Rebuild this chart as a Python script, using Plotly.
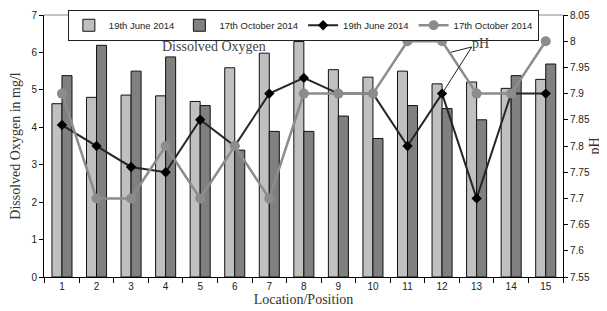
import plotly.graph_objects as go

locations = [str(i) for i in range(1, 16)]
do_june = [4.63, 4.8, 4.86, 4.84, 4.69, 5.59, 5.98, 6.29, 5.54, 5.34, 5.5, 5.16, 5.21, 5.04, 5.28]
do_oct = [5.38, 6.19, 5.5, 5.88, 4.58, 3.39, 3.89, 3.89, 4.3, 3.7, 4.58, 4.5, 4.2, 5.38, 5.69]
ph_june = [7.84, 7.80, 7.76, 7.75, 7.85, 7.80, 7.90, 7.93, 7.90, 7.90, 7.80, 7.90, 7.70, 7.90, 7.90]
ph_oct = [7.90, 7.70, 7.70, 7.80, 7.70, 7.80, 7.70, 7.90, 7.90, 7.90, 8.00, 8.00, 7.90, 7.90, 8.00]
legend_names = ["19th June 2014", "17th October 2014"]

sans = "Liberation Sans, Arial, sans-serif"
serif = "Liberation Serif, Times New Roman, serif"

fig = go.Figure()
fig.add_trace(go.Bar(x=locations, y=do_june, name=legend_names[0],
                     marker=dict(color="#c0c0c0", line=dict(color="#111111", width=1))))
fig.add_trace(go.Bar(x=locations, y=do_oct, name=legend_names[1],
                     marker=dict(color="#808080", line=dict(color="#111111", width=1))))
fig.add_trace(go.Scatter(x=locations, y=ph_june, name=legend_names[0], yaxis="y2",
                         mode="lines+markers",
                         line=dict(color="#262626", width=2),
                         marker=dict(symbol="diamond", size=8, color="#000000")))
fig.add_trace(go.Scatter(x=locations, y=ph_oct, name=legend_names[1], yaxis="y2",
                         mode="lines+markers",
                         line=dict(color="#8c8c8c", width=2.5),
                         marker=dict(symbol="circle", size=10, color="#8c8c8c")))

# page body has an 8px margin, so the figure is shrunk and margins shifted accordingly
fig.update_layout(
    width=599, height=303,
    margin=dict(l=36, r=44, t=7, b=34, autoexpand=False),
    paper_bgcolor="white", plot_bgcolor="white",
    barmode="group", bargap=0.42, bargroupgap=0,
    showlegend=True,
    legend=dict(orientation="h", x=0.046, y=1.02, xanchor="left", yanchor="top",
                bgcolor="white", bordercolor="#222222", borderwidth=1,
                font=dict(family=sans, size=9.5, color="#222222"),
                traceorder="normal", itemwidth=30),
    xaxis=dict(type="category", tickson="boundaries", ticks="outside", ticklen=5,
               tickcolor="#000", showline=True, linecolor="#000", linewidth=1,
               showgrid=False, range=[-0.52, 14.5],
               tickfont=dict(family=sans, size=10, color="#222"),
               title=dict(text="Location/Position", font=dict(family=serif, size=14, color="#333"),
                          standoff=2)),
    yaxis=dict(range=[0, 7], dtick=1, ticks="outside", ticklen=4, tickcolor="#000",
               showline=True, linecolor="#000", linewidth=1, showgrid=False, zeroline=False,
               tickfont=dict(family=sans, size=10, color="#222"),
               title=dict(text="Dissolved Oxygen in mg/l", font=dict(family=serif, size=14, color="#333"),
                          standoff=8)),
    yaxis2=dict(overlaying="y", side="right", range=[7.55, 8.05], dtick=0.05,
                ticks="outside", ticklen=4, tickcolor="#000",
                showline=True, linecolor="#000", linewidth=1, showgrid=False, zeroline=False,
                tickfont=dict(family=sans, size=10, color="#222"),
                title=dict(text="pH", font=dict(family=serif, size=14, color="#333"), standoff=0)),
)

# top border of plot area
fig.add_shape(type="line", xref="paper", yref="paper", x0=0, x1=1, y0=1, y1=1,
              line=dict(color="#888888", width=1), layer="below")

fig.add_annotation(text="Dissolved Oxygen", xref="x", yref="y", x=4.4, y=6.15,
                   showarrow=False, font=dict(family=serif, size=14, color="#444"))
fig.add_annotation(text="pH", xref="x", yref="y2", x=12.1, y=7.996,
                   showarrow=False, font=dict(family=serif, size=14, color="#444"))
fig.add_shape(type="line", xref="x", yref="y2", x0=11.86, y0=7.989, x1=11.26, y1=7.979,
              line=dict(color="#222", width=1))
fig.add_shape(type="line", xref="x", yref="y2", x0=11.86, y0=7.989, x1=11.0, y1=7.9,
              line=dict(color="#222", width=1))

fig.write_html("out.html")
